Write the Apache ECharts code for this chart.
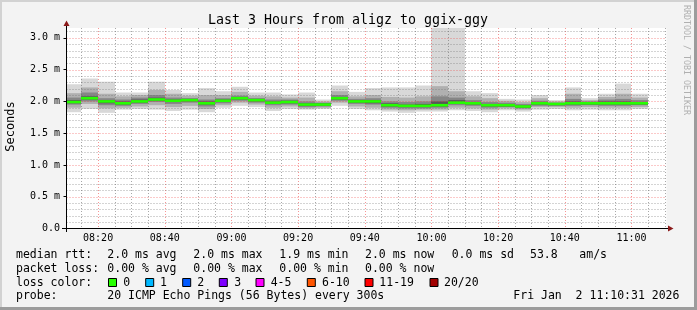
<!DOCTYPE html>
<html><head><meta charset="utf-8">
<script src="https://cdn.jsdelivr.net/npm/echarts@6/dist/echarts.min.js"></script>
<style>html,body{margin:0;padding:0;background:#f3f3f3}#c{width:697px;height:310px}</style>
</head><body><div id="c"></div>
<script>
// ---- data ----
const binEnd = ["08:15","08:20","08:25","08:30","08:35","08:40","08:45","08:50","08:55","09:00",
  "09:05","09:10","09:15","09:20","09:25","09:30","09:35","09:40","09:45","09:50",
  "09:55","10:00","10:05","10:10","10:15","10:20","10:25","10:30","10:35","10:40",
  "10:45","10:50","10:55","11:00","11:05"];
const median   = [1.99,2.05,2.00,1.97,2.00,2.03,2.01,2.02,1.97,2.01,2.05,2.02,1.98,1.99,1.95,1.95,2.05,2.00,2.00,1.94,1.93,1.93,1.94,1.98,1.97,1.94,1.94,1.92,1.97,1.96,1.97,1.97,1.97,1.97,1.97];
const smokeMax = [2.27,2.36,2.31,2.14,2.14,2.31,2.18,2.13,2.21,2.16,2.23,2.14,2.14,2.11,2.14,2.03,2.25,2.15,2.21,2.22,2.22,2.25,3.60,3.60,2.16,2.13,2.04,2.03,2.10,2.02,2.22,2.05,2.12,2.28,2.12];
const smokeP85 = [2.13,2.22,2.12,2.08,2.10,2.18,2.12,2.09,2.10,2.10,2.15,2.09,2.08,2.06,2.06,2.00,2.16,2.08,2.10,2.07,2.06,2.08,2.24,2.16,2.08,2.05,2.01,1.99,2.05,2.00,2.12,2.02,2.07,2.12,2.06];
const smokeP70 = [2.06,2.14,2.05,2.03,2.06,2.10,2.06,2.05,2.03,2.05,2.09,2.05,2.03,2.03,2.00,1.98,2.10,2.04,2.05,2.00,1.99,2.00,2.08,2.06,2.02,1.99,1.98,1.96,2.01,1.98,2.04,2.00,2.03,2.04,2.02];
const smokeP60 = [2.02,2.08,2.02,2.00,2.03,2.06,2.03,2.04,2.00,2.03,2.07,2.04,2.00,2.01,1.97,1.97,2.07,2.02,2.02,1.97,1.95,1.96,2.00,2.02,1.99,1.96,1.96,1.94,1.99,1.97,2.00,1.99,2.00,2.00,1.99];
const smokeP40 = [1.97,2.03,1.97,1.95,1.98,2.01,1.99,2.00,1.95,1.99,2.03,2.00,1.96,1.97,1.93,1.93,2.03,1.98,1.97,1.92,1.91,1.91,1.92,1.96,1.95,1.92,1.92,1.90,1.95,1.94,1.95,1.95,1.95,1.95,1.95];
const smokeP30 = [1.95,2.00,1.94,1.93,1.96,1.99,1.96,1.98,1.92,1.97,2.01,1.98,1.94,1.95,1.91,1.92,2.01,1.96,1.95,1.90,1.89,1.89,1.90,1.94,1.93,1.90,1.91,1.89,1.93,1.93,1.93,1.94,1.93,1.93,1.94];
const smokeP15 = [1.90,1.96,1.89,1.90,1.92,1.94,1.91,1.93,1.88,1.94,1.98,1.95,1.90,1.92,1.89,1.90,1.98,1.92,1.90,1.87,1.86,1.87,1.87,1.90,1.89,1.87,1.89,1.87,1.91,1.91,1.90,1.91,1.90,1.90,1.91];
const smokeMin = [1.83,1.88,1.82,1.87,1.88,1.87,1.85,1.87,1.83,1.90,1.93,1.91,1.85,1.88,1.87,1.88,1.93,1.88,1.86,1.84,1.82,1.84,1.84,1.86,1.85,1.83,1.86,1.84,1.87,1.88,1.86,1.87,1.86,1.86,1.88];
const xTickLabels = ["08:20","08:40","09:00","09:20","09:40","10:00","10:20","10:40","11:00"];
const yTickLabels = ["0.0","0.5 m","1.0 m","1.5 m","2.0 m","2.5 m","3.0 m"];
const rttStats  = ["2.0 ms avg","2.0 ms max","1.9 ms min","2.0 ms now","0.0 ms sd","53.8","am/s"];
const lossStats = ["0.00 % avg","0.00 % max","0.00 % min","0.00 % now"];
const lossLabels = ["0","1","2","3","4-5","6-10","11-19","20/20"];
const lossColors = ["#26ff00","#00b8ff","#0059ff","#7e00ff","#ff00ff","#ff5500","#ff0000","#a10000"];
const titleText = "Last 3 Hours from aligz to ggix-ggy";
const probeText = "20 ICMP Echo Pings (56 Bytes) every 300s";
const dateText  = "Fri Jan  2 11:10:31 2026";
const startMin = 8*60+10+31/60, endMin = startMin + 180;

// ---- layout (not data) ----
const FONT = "'DejaVu Sans Mono', monospace";
const rttX = [107.3,193.3,279.3,365,451.7,530,579.3];
const lossX = [107.3,193.3,279.3,365];
const boxX = [108.5,145.7,182.7,219.3,256,307.3,365,430];
const boxLabelX = [123.3,160,197.3,234.3,270.7,322,379.3,444];
const rowY = [255.5,268.7,283,296.3];

const toMin = s => { const [h,m] = s.split(':').map(Number); return h*60+m; };
const fmtMin = v => { const h = Math.floor(v/60), m = Math.round(v%60); return String(h).padStart(2,'0')+':'+String(m).padStart(2,'0'); };

const smokeData = binEnd.map((t,i)=>[toMin(t), median[i], smokeMin[i], smokeP15[i], smokeP30[i], smokeP40[i], smokeP60[i], smokeP70[i], smokeP85[i], smokeMax[i]]);

const gridData = [];
for (let t = 495; t < endMin; t += 5) gridData.push([0, t, t % 20 === 0 ? 1 : 0]);
for (let k = 1; k <= 31; k++) gridData.push([1, k/10, k % 5 === 0 ? 1 : 0]);

function clip(r, cs){
  return echarts.graphic.clipRectByRect(r, {x:cs.x, y:cs.y, width:cs.width, height:cs.height});
}
const layerColors = ['#d8d8d8','#b0b0b0','#868686','#575757'];
function renderSmoke(params, api){
  const cs = params.coordSys;
  const t1 = api.value(0), t0 = t1 - 5;
  const pairs = [[api.value(2), api.value(9)], [api.value(3), api.value(8)], [api.value(4), api.value(7)], [api.value(5), api.value(6)]];
  const children = [];
  pairs.forEach((p, j) => {
    const a = api.coord([t0, p[1]]), b = api.coord([t1, p[0]]);
    const x0 = Math.round(a[0]), x1 = Math.round(b[0]);
    const r = clip({x:x0, y:a[1], width:x1-x0, height:b[1]-a[1]}, cs);
    if (r) children.push({type:'rect', shape:r, style:{fill:layerColors[j]}});
  });
  return {type:'group', children};
}
function renderMedian(params, api){
  const cs = params.coordSys;
  const t1 = api.value(0), t0 = t1 - 5;
  const a = api.coord([t0, api.value(1)]), b = api.coord([t1, api.value(1)]);
  const x0 = Math.max(Math.round(a[0]), cs.x), x1 = Math.round(b[0]);
  return {type:'rect', shape:{x:x0, y:a[1]-1.3, width:x1-x0, height:2.6}, style:{fill:'#26ff00'}};
}
function renderGrid(params, api){
  const cs = params.coordSys;
  const kind = api.value(0), v = api.value(1), major = api.value(2);
  let shape;
  if (kind === 0) {
    const x = Math.round(api.coord([v, 0])[0]) + 0.5;
    shape = {x1:x, y1:cs.y, x2:x, y2:cs.y+cs.height};
  } else {
    const y = Math.round(api.coord([startMin, v])[1]) + 0.5;
    shape = {x1:cs.x, y1:y, x2:cs.x+cs.width, y2:y};
  }
  return {type:'line', shape, style:{stroke: major ? 'rgba(240,60,60,0.55)' : 'rgba(110,110,110,0.6)', lineWidth:1, lineDash:[1,2]}};
}

const textEl = (x, y, text, extra) => Object.assign({type:'text', x, y, style:{text, font:'11.5px '+FONT, fill:'#000', textVerticalAlign:'middle'}, z:20}, extra||{});
const graphics = [
  // frame
  {type:'rect', shape:{x:0,y:0,width:697,height:2}, style:{fill:'#d2d2d2'}, z:30},
  {type:'rect', shape:{x:0,y:0,width:2,height:310}, style:{fill:'#d2d2d2'}, z:30},
  {type:'rect', shape:{x:694,y:0,width:3,height:310}, style:{fill:'#9c9c9c'}, z:30},
  {type:'rect', shape:{x:0,y:307,width:697,height:3}, style:{fill:'#9c9c9c'}, z:30},
  // axis extensions and arrows
  {type:'line', shape:{x1:62,y1:228.5,x2:668,y2:228.5}, style:{stroke:'#000',lineWidth:1}, z:25},
  {type:'line', shape:{x1:66.5,y1:25,x2:66.5,y2:232}, style:{stroke:'#000',lineWidth:1}, z:25},
  {type:'polygon', shape:{points:[[63.5,26],[69.5,26],[66.5,20.5]]}, style:{fill:'#8b1a1a'}, z:26},
  {type:'polygon', shape:{points:[[668,225.5],[668,231.5],[673.5,228.5]]}, style:{fill:'#8b1a1a'}, z:26},
  // title and names
  {type:'text', x:348, y:20.5, style:{text:titleText, font:'13.3px '+FONT, fill:'#000', textAlign:'center', textVerticalAlign:'middle'}, z:20},
  {type:'text', x:11, y:126.5, rotation:Math.PI/2, style:{text:'Seconds', font:'12px '+FONT, fill:'#000', textAlign:'center', textVerticalAlign:'middle'}, z:20},
  {type:'text', x:686.5, y:60, rotation:-Math.PI/2, style:{text:'RRDTOOL / TOBI OETIKER', font:'8.3px '+FONT, fill:'#b0b0b0', textAlign:'center', textVerticalAlign:'middle'}, z:20},
  // legend rows
  textEl(16, rowY[0], 'median rtt:'),
  textEl(16, rowY[1], 'packet loss:'),
  textEl(16, rowY[2], 'loss color:'),
  textEl(16, rowY[3], 'probe:'),
  textEl(107.3, rowY[3], probeText),
  textEl(513.3, rowY[3], dateText)
];
rttStats.forEach((s,i)=>graphics.push(textEl(rttX[i], rowY[0], s)));
lossStats.forEach((s,i)=>graphics.push(textEl(lossX[i], rowY[1], s)));
lossLabels.forEach((s,i)=>{
  graphics.push({type:'rect', shape:{x:boxX[i], y:278.5, width:8, height:8}, style:{fill:lossColors[i], stroke:'#000', lineWidth:1}, z:20});
  graphics.push(textEl(boxLabelX[i], rowY[2], s));
});

const chart = echarts.init(document.getElementById('c'), null, {renderer:'canvas'});
chart.setOption({
  backgroundColor:'#f3f3f3',
  animation:false,
  grid:{left:66.5, right:30.5, top:28, bottom:81.5, show:true, backgroundColor:'#ffffff', borderWidth:0},
  xAxis:{type:'value', min:startMin, max:endMin, z:10,
    axisLine:{show:true, lineStyle:{color:'#000', width:1}},
    axisTick:{show:false},
    splitLine:{show:false},
    axisLabel:{customValues:xTickLabels.map(toMin), formatter:v=>fmtMin(v), margin:4.5, color:'#000', fontFamily:FONT, fontSize:10}
  },
  yAxis:{type:'value', min:0, max:3.155, interval:0.5, z:10,
    axisLine:{show:true, lineStyle:{color:'#000', width:1}},
    axisTick:{show:true, length:3, lineStyle:{color:'#000'}},
    splitLine:{show:false},
    axisLabel:{formatter:v=>{const k=Math.round(v*2); return yTickLabels[k]!==undefined?yTickLabels[k]:'';}, margin:6.5, color:'#000', fontFamily:FONT, fontSize:10, showMaxLabel:false}
  },
  series:[
    {type:'custom', name:'smoke', renderItem:renderSmoke, data:smokeData, encode:{x:0,y:1}, z:2, silent:true},
    {type:'custom', name:'grid', renderItem:renderGrid, data:gridData, encode:{x:1,y:1}, z:3, silent:true},
    {type:'custom', name:'median', renderItem:renderMedian, data:smokeData, encode:{x:0,y:1}, z:4, silent:true}
  ],
  graphic:graphics
});
</script></body></html>
